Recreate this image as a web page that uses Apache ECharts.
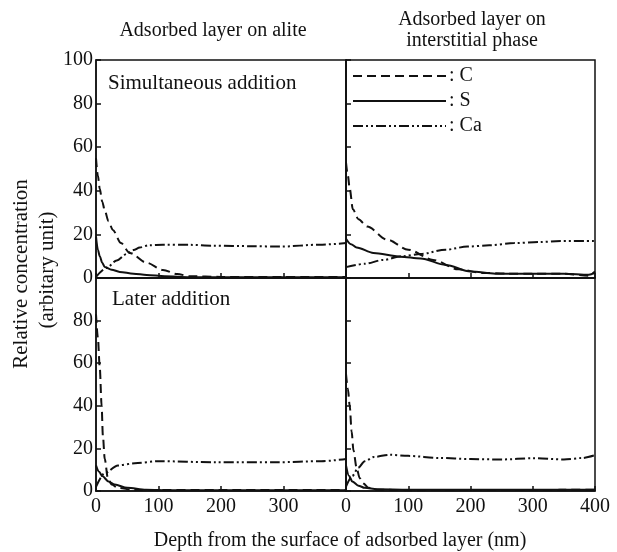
<!DOCTYPE html>
<html>
<head>
<meta charset="utf-8">
<script src="https://cdn.jsdelivr.net/npm/echarts@6/dist/echarts.min.js"></script>
<style>
  html, body { margin: 0; padding: 0; background: #fff; }
  #chart { width: 617px; height: 552px; }
</style>
</head>
<body>
<div id="chart"></div>
<script>
// [depth nm, relative concentration]
const simAliteC = [[0, 55], [3, 47], [6, 41], [10, 35], [14, 31], [20, 26], [27, 22], [40, 16], [54, 11.5], [81, 7], [107, 3.7], [130, 1.8], [150, 0.8], [200, 0.5], [300, 0.5], [400, 0.5]];
const simAliteS = [[0, 19], [3, 13], [6, 10], [10, 7], [14, 5], [25, 3.8], [38, 2.8], [60, 2], [81, 1.4], [110, 0.8], [150, 0.4], [200, 0.3], [400, 0.3]];
const simAliteCa = [[0, 0.5], [17, 4.6], [33, 8], [49, 11], [60, 12.8], [70, 14], [85, 15], [107, 15.3], [150, 15.2], [187, 14.8], [250, 14.6], [294, 14.4], [358, 15.3], [400, 16]];

const simInterC = [[0, 53], [3, 47], [6, 41], [11, 31.5], [20, 27], [34, 23.6], [66, 17.6], [100, 13], [140, 8.3], [180, 4], [220, 2.3], [260, 2], [300, 2], [350, 2], [390, 1], [400, 3]];
const simInterS = [[0, 18], [8, 15.5], [17, 14], [44, 11.5], [87, 9.8], [120, 9], [160, 6], [200, 3], [240, 2], [300, 2], [350, 2], [390, 1.5], [400, 2.5]];
const simInterCa = [[0, 5], [30, 6.5], [60, 8.3], [90, 10], [120, 11], [160, 13], [195, 14.4], [230, 15], [270, 16], [310, 16.5], [345, 17], [400, 17]];

const latAliteC = [[0, 83], [3, 72], [6, 58], [9, 40], [11, 26], [14, 15], [19, 6], [25, 3], [35, 1.5], [60, 0.5], [200, 0.5], [400, 0.5]];
const latAliteS = [[0, 12], [5, 9], [10, 7], [20, 4.5], [30, 3], [50, 1.5], [80, 0.6], [120, 0.3], [400, 0.3]];
const latAliteCa = [[0, 2], [14, 8.4], [35, 12], [62, 13], [100, 14], [190, 13.5], [290, 13.5], [360, 14], [400, 15]];

const latInterC = [[0, 55], [3, 48], [6, 40], [9, 28], [12, 19], [17, 11], [22, 6], [28, 3.5], [36, 1.5], [50, 0.6], [100, 0.4], [200, 0.5], [300, 0.5], [400, 0.6]];
const latInterS = [[0, 12], [5, 7], [10, 4.5], [20, 2.5], [30, 1.5], [50, 0.8], [100, 0.6], [400, 0.6]];
const latInterCa = [[0, 2], [10, 7], [20, 11], [30, 14], [45, 16], [70, 17], [100, 16.5], [150, 15.5], [200, 15], [250, 14.8], [300, 15.4], [350, 14.8], [380, 15.5], [400, 16.8]];

const serif = 'Liberation Serif';
const ink = '#111';

const chart = echarts.init(document.getElementById('chart'), null, { renderer: 'canvas' });

const grids = [
  { left: 96, top: 60, width: 250, height: 218 },
  { left: 346, top: 60, width: 249, height: 218 },
  { left: 96, top: 278, width: 250, height: 213 },
  { left: 346, top: 278, width: 249, height: 213 }
];

const xAxes = grids.map(function (g, i) {
  return {
    type: 'value', gridIndex: i, min: 0, max: 400, interval: 100,
    axisLine: { lineStyle: { color: ink, width: 1.5 } },
    axisTick: { inside: true, length: 5, lineStyle: { color: ink, width: 1.5 } },
    axisLabel: {
      show: i >= 2, showMaxLabel: i === 3, showMinLabel: true,
      color: ink, fontFamily: serif, fontSize: 20, margin: 6
    },
    splitLine: { show: false }
  };
});

const yAxes = grids.map(function (g, i) {
  return {
    type: 'value', gridIndex: i, min: 0, max: 100, interval: 20,
    axisLine: { lineStyle: { color: ink, width: 1.5 } },
    axisTick: { inside: true, length: 5, lineStyle: { color: ink, width: 1.5 } },
    axisLabel: {
      show: i === 0 || i === 2, showMaxLabel: i === 0,
      color: ink, fontFamily: serif, fontSize: 20, margin: 3
    },
    splitLine: { show: false }
  };
});

const dashC = [9, 5];
const dashCa = [10, 3, 2, 3, 2, 3];

function line(name, data, idx, dash) {
  return {
    name: name, type: 'line', xAxisIndex: idx, yAxisIndex: idx,
    data: data, showSymbol: false, symbol: 'none',
    smooth: 0.3, smoothMonotone: 'x',
    lineStyle: { color: ink, width: 2, type: dash },
    itemStyle: { color: ink }
  };
}

const font = function (px) { return px + 'px "Liberation Serif"'; };

chart.setOption({
  backgroundColor: '#fff',
  animation: false,
  grid: grids.map(function (g) {
    return Object.assign({ show: true, borderColor: ink, borderWidth: 1.5, backgroundColor: 'transparent' }, g);
  }),
  xAxis: xAxes,
  yAxis: yAxes,
  legend: {
    left: 352, top: 66, orient: 'vertical', padding: 0,
    itemWidth: 93, itemHeight: 20, itemGap: 5,
    data: ['C', 'S', 'Ca'],
    itemStyle: { opacity: 0 },
    formatter: function (n) { return ': ' + n; },
    textStyle: { color: ink, fontFamily: serif, fontSize: 20, padding: [0, 0, 0, -2] }
  },
  series: [
    line('C', simAliteC, 0, dashC),
    line('S', simAliteS, 0, 'solid'),
    line('Ca', simAliteCa, 0, dashCa),
    line('C', simInterC, 1, dashC),
    line('S', simInterS, 1, 'solid'),
    line('Ca', simInterCa, 1, dashCa),
    line('C', latAliteC, 2, dashC),
    line('S', latAliteS, 2, 'solid'),
    line('Ca', latAliteCa, 2, dashCa),
    line('C', latInterC, 3, dashC),
    line('S', latInterS, 3, 'solid'),
    line('Ca', latInterCa, 3, dashCa)
  ],
  graphic: [
    { type: 'text', x: 213, y: 31, style: { text: 'Adsorbed layer on alite', font: font(20), fill: ink, align: 'center', verticalAlign: 'middle' } },
    { type: 'text', x: 472, y: 20, style: { text: 'Adsorbed layer on', font: font(20), fill: ink, align: 'center', verticalAlign: 'middle' } },
    { type: 'text', x: 472, y: 41, style: { text: 'interstitial phase', font: font(20), fill: ink, align: 'center', verticalAlign: 'middle' } },
    { type: 'text', x: 108, y: 83, style: { text: 'Simultaneous addition', font: font(21), fill: ink, align: 'left', verticalAlign: 'middle' } },
    { type: 'text', x: 112, y: 299, style: { text: 'Later addition', font: font(21), fill: ink, align: 'left', verticalAlign: 'middle' } },
    { type: 'text', x: 21, y: 274, rotation: Math.PI / 2, style: { text: 'Relative concentration', font: font(21), fill: ink, align: 'center', verticalAlign: 'middle' } },
    { type: 'text', x: 47, y: 270, rotation: Math.PI / 2, style: { text: '(arbitary unit)', font: font(21), fill: ink, align: 'center', verticalAlign: 'middle' } },
    { type: 'text', x: 340, y: 541, style: { text: 'Depth from the surface of adsorbed layer (nm)', font: font(20), fill: ink, align: 'center', verticalAlign: 'middle' } }
  ]
});
</script>
</body>
</html>
